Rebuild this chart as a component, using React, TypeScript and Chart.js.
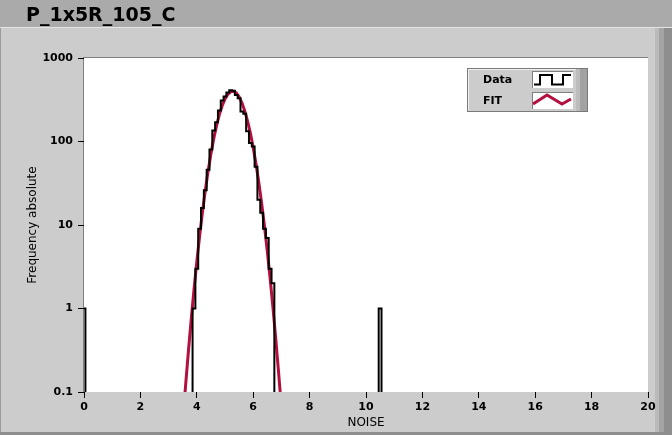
import React, { useEffect, useRef } from "react";
import { Chart, registerables } from "chart.js";

Chart.register(...registerables);

// ---------- data ----------
const TITLE = "P_1x5R_105_C";
const X_LABEL = "NOISE";
const Y_LABEL = "Frequency absolute";
const SERIES_NAMES = ["Data", "FIT"];

const BIN_WIDTH = 0.1;
const histCenters = [
  0.0, 3.9, 4.0, 4.1, 4.2, 4.3, 4.4, 4.5, 4.6, 4.7, 4.8, 4.9, 5.0, 5.1, 5.2, 5.3,
  5.4, 5.5, 5.6, 5.7, 5.8, 5.9, 6.0, 6.1, 6.2, 6.3, 6.4, 6.5, 6.6, 6.7, 10.5,
];
const histCounts = [
  1, 1, 3, 9, 16, 26, 46, 80, 135, 170, 235, 310, 345, 385, 410, 405,
  360, 330, 228, 215, 133, 96, 87, 50, 20, 14, 9, 7, 3, 2, 1,
];

const fitX = [
  3.5, 3.6, 3.7, 3.8, 3.9, 4.0, 4.1, 4.2, 4.3, 4.4, 4.5, 4.6, 4.7, 4.8, 4.9, 5.0,
  5.1, 5.2, 5.3, 5.4, 5.5, 5.6, 5.7, 5.8, 5.9, 6.0, 6.1, 6.2, 6.3, 6.4, 6.5, 6.6,
  6.7, 6.8, 6.9, 7.0, 7.1,
];
const fitY = [
  0.043, 0.117, 0.301, 0.731, 1.68, 3.62, 7.38, 14.2, 25.7, 44.0, 70.9, 108, 155, 210, 268, 323,
  368, 394, 399, 381, 343, 291, 233, 176, 126, 84.5, 53.6, 32.1, 18.1, 9.65, 4.85, 2.3,
  1.03, 0.433, 0.172, 0.065, 0.023,
];

const xTicks = [0, 2, 4, 6, 8, 10, 12, 14, 16, 18, 20];
const yTicks = [0.1, 1, 10, 100, 1000];
const yTickLabels = ["0.1", "1", "10", "100", "1000"];

// ---------- styles ----------
const RED = "#b3103f";
const FONT = "DejaVu Sans";
const TICK_FONT = { family: FONT, size: 11, weight: "bold" as const };
const AXIS_TITLE_FONT = { family: FONT, size: 12, weight: "normal" as const };
const FLOOR = 0.01; // zero counts are drawn below the visible range

function buildHistogram() {
  const pts: { x: number; y: number }[] = [];
  let prevRight: number | null = null;
  for (let i = 0; i < histCenters.length; i++) {
    const l = +(histCenters[i] - BIN_WIDTH / 2).toFixed(4);
    const r = +(histCenters[i] + BIN_WIDTH / 2).toFixed(4);
    const c = histCounts[i] > 0 ? histCounts[i] : FLOOR;
    if (prevRight === null || Math.abs(l - prevRight) > 1e-6) {
      if (prevRight !== null) pts.push({ x: prevRight, y: FLOOR });
      pts.push({ x: l, y: FLOOR });
    }
    pts.push({ x: l, y: c });
    pts.push({ x: r, y: c });
    prevRight = r;
  }
  if (prevRight !== null) pts.push({ x: prevRight, y: FLOOR });
  return pts;
}

const framePlugin = {
  id: "frame",
  beforeDraw(chart: any) {
    const { ctx, width, height, chartArea } = chart;
    ctx.save();
    // panel
    ctx.fillStyle = "#cccccc";
    ctx.fillRect(0, 0, width, height);
    // title bar
    ctx.fillStyle = "#aaaaaa";
    ctx.fillRect(0, 0, width, 27);
    ctx.fillStyle = "#e4e4e4";
    ctx.fillRect(0, 27, width, 1);
    // left edge
    ctx.fillStyle = "#9a9a9a";
    ctx.fillRect(0, 28, 1, height - 28);
    // right 3D bar
    ctx.fillStyle = "#bababa";
    ctx.fillRect(655, 28, 4, height - 28);
    ctx.fillStyle = "#a4a4a4";
    ctx.fillRect(659, 28, 5, height - 28);
    ctx.fillStyle = "#8e8e8e";
    ctx.fillRect(664, 28, 8, height - 28);
    // bottom edge
    ctx.fillStyle = "#8e8e8e";
    ctx.fillRect(0, height - 3, width, 3);
    // title
    ctx.fillStyle = "#000";
    ctx.font = `bold 19px "${FONT}"`;
    ctx.textBaseline = "alphabetic";
    ctx.textAlign = "left";
    ctx.fillText(TITLE, 26, 21);
    // plot area
    const { left, top, right, bottom } = chartArea;
    ctx.fillStyle = "#ffffff";
    ctx.fillRect(left, top, right - left, bottom - top);
    ctx.fillStyle = "#7f7f7f";
    ctx.fillRect(left - 1, top - 1, right - left + 1, 1);
    ctx.fillRect(left - 1, top - 1, 1, bottom - top + 1);
    ctx.restore();
  },
  afterDraw(chart: any) {
    const { ctx } = chart;
    ctx.save();
    const x0 = 467, y0 = 68, w = 121, h = 44;
    ctx.fillStyle = "#cccccc";
    ctx.fillRect(x0, y0, w, h);
    ctx.fillStyle = "#bcbcbc";
    ctx.fillRect(x0 + w - 12, y0, 4, h);
    ctx.fillStyle = "#a2a2a2";
    ctx.fillRect(x0 + w - 8, y0, 8, h);
    ctx.strokeStyle = "#7a7a7a";
    ctx.lineWidth = 1;
    ctx.strokeRect(x0 + 0.5, y0 + 0.5, w - 1, h - 1);
    ctx.strokeStyle = "#f0f0f0";
    ctx.beginPath();
    ctx.moveTo(x0 + 1.5, y0 + h - 1.5);
    ctx.lineTo(x0 + 1.5, y0 + 1.5);
    ctx.lineTo(x0 + w - 12, y0 + 1.5);
    ctx.stroke();
    // labels
    ctx.fillStyle = "#000";
    ctx.font = `bold 11px "${FONT}"`;
    ctx.textBaseline = "middle";
    ctx.textAlign = "left";
    ctx.fillText(SERIES_NAMES[0], 483, 80);
    ctx.fillText(SERIES_NAMES[1], 483, 101);
    // sample boxes
    const boxes = [
      [532, 71, 41, 17],
      [532, 92, 41, 17],
    ];
    for (const [bx, by, bw, bh] of boxes) {
      ctx.fillStyle = "#ffffff";
      ctx.fillRect(bx, by, bw, bh);
      ctx.fillStyle = "#808080";
      ctx.fillRect(bx, by, bw, 1);
      ctx.fillRect(bx, by, 1, bh);
    }
    // Data sample: step line
    ctx.strokeStyle = "#000";
    ctx.lineWidth = 2;
    ctx.beginPath();
    ctx.moveTo(534, 84.5);
    ctx.lineTo(540, 84.5);
    ctx.lineTo(540, 75);
    ctx.lineTo(552, 75);
    ctx.lineTo(552, 84.5);
    ctx.lineTo(563, 84.5);
    ctx.lineTo(563, 75);
    ctx.lineTo(571, 75);
    ctx.stroke();
    // FIT sample: zigzag
    ctx.strokeStyle = RED;
    ctx.lineWidth = 3;
    ctx.beginPath();
    ctx.moveTo(533, 104);
    ctx.lineTo(547, 95);
    ctx.lineTo(562, 104);
    ctx.lineTo(571, 99);
    ctx.stroke();
    ctx.restore();
  },
};

export default function App() {
  const ref = useRef<HTMLCanvasElement>(null);
  useEffect(() => {
    document.body.style.margin = "0";
    const canvas = ref.current!;
    const histPts = buildHistogram();
    const fitPts = fitX.map((x, i) => ({ x, y: fitY[i] }));
    const chart = new Chart(canvas, {
      type: "line",
      data: {
        datasets: [
          {
            label: SERIES_NAMES[0],
            data: histPts,
            borderColor: "#000000",
            borderWidth: 2,
            pointRadius: 0,
            tension: 0,
            fill: false,
          },
          {
            label: SERIES_NAMES[1],
            data: fitPts,
            borderColor: RED,
            borderWidth: 3,
            pointRadius: 0,
            tension: 0,
            fill: false,
          },
        ],
      },
      options: {
        responsive: false,
        animation: false,
        devicePixelRatio: 1,
        layout: { padding: { left: 0, top: 58, right: 24, bottom: 0 } },
        plugins: {
          legend: { display: false },
          tooltip: { enabled: false },
          title: { display: false },
        },
        scales: {
          x: {
            type: "linear",
            min: 0,
            max: 20,
            afterFit: (s: any) => {
              s.height = 43;
            },
            afterBuildTicks: (s: any) => {
              s.ticks = xTicks.map((v) => ({ value: v }));
            },
            ticks: {
              color: "#000",
              font: TICK_FONT,
              padding: 3,
              maxRotation: 0,
              autoSkip: false,
              callback: (v: any) => String(v),
            },
            grid: {
              display: true,
              drawOnChartArea: false,
              drawTicks: true,
              tickLength: 6,
              tickColor: "#000",
              tickWidth: 1,
            },
            border: { display: false },
            title: {
              display: true,
              text: X_LABEL,
              color: "#000",
              font: AXIS_TITLE_FONT,
              padding: { top: 0, bottom: 5 },
            },
          },
          y: {
            type: "logarithmic",
            min: 0.1,
            max: 1000,
            afterFit: (s: any) => {
              s.width = 84;
            },
            afterBuildTicks: (s: any) => {
              s.ticks = yTicks.map((v) => ({ value: v }));
            },
            ticks: {
              color: "#000",
              font: TICK_FONT,
              padding: 5,
              autoSkip: false,
              callback: (_v: any, i: number) => yTickLabels[i],
            },
            grid: {
              display: true,
              drawOnChartArea: false,
              drawTicks: true,
              tickLength: 6,
              tickColor: "#000",
              tickWidth: 1,
            },
            border: { display: false },
            title: {
              display: true,
              text: Y_LABEL,
              color: "#000",
              font: AXIS_TITLE_FONT,
              padding: { top: 26, bottom: 0 },
            },
          },
        },
      },
      plugins: [framePlugin],
    } as any);
    return () => chart.destroy();
  }, []);
  return (
    <div style={{ position: "fixed", left: 0, top: 0, width: 672, height: 435 }}>
      <canvas ref={ref} width={672} height={435} style={{ display: "block" }} />
    </div>
  );
}
